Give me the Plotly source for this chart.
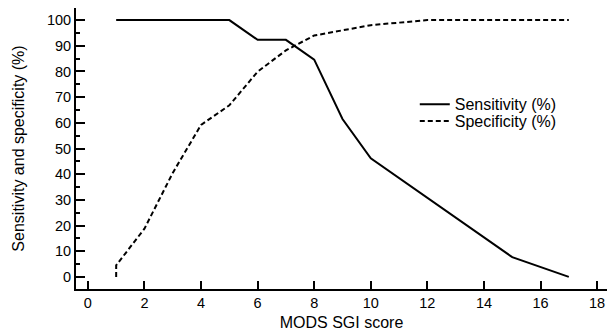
import plotly.graph_objects as go

# Data
sens_x = [1, 5, 6, 7, 8, 9, 10, 15, 17]
sens_y = [100, 100, 92.3, 92.3, 84.6, 61.5, 46.2, 7.7, 0]

spec_x = [1, 1, 2, 3, 4, 5, 6, 7, 8, 10, 12, 17]
spec_y = [0, 4.5, 18.8, 40.5, 59.2, 66.8, 79.9, 88.2, 94.0, 98.0, 100, 100]

x_ticks = [0, 2, 4, 6, 8, 10, 12, 14, 16, 18]
y_ticks = [0, 10, 20, 30, 40, 50, 60, 70, 80, 90, 100]

FONT = "Liberation Sans, Arial, sans-serif"

fig = go.Figure()
fig.add_trace(go.Scatter(x=sens_x, y=sens_y, mode="lines", name="Sensitivity (%)",
                         legend="legend", hoverinfo="skip",
                         line=dict(color="black", width=2)))
fig.add_trace(go.Scatter(x=spec_x, y=spec_y, mode="lines", name="Specificity (%)",
                         legend="legend2", hoverinfo="skip",
                         line=dict(color="black", width=2, dash="5px,3px")))

leg_common = dict(xanchor="left", yanchor="top", bgcolor="rgba(0,0,0,0)",
                  font=dict(size=16), itemwidth=30)

fig.update_layout(
    width=608, height=334,
    margin=dict(l=76, r=1, t=8, b=45, autoexpand=False),
    paper_bgcolor="white", plot_bgcolor="white",
    font=dict(family=FONT, size=16, color="black"),
    showlegend=True,
    hovermode=False,
    legend=dict(x=0.638, y=0.718, **leg_common),
    legend2=dict(x=0.638, y=0.658, **leg_common),
    xaxis=dict(range=[-0.42, 18.35], tickvals=x_ticks, ticks="inside", ticklen=8,
               tickwidth=2, tickcolor="black", showline=True, linecolor="black",
               linewidth=2, showgrid=False, zeroline=False, automargin=False,
               title=dict(text="MODS SGI score", standoff=6, font=dict(size=16)),
               tickfont=dict(size=14.5)),
    yaxis=dict(range=[-4.7, 104.7], tickvals=y_ticks, ticks="inside", ticklen=9,
               tickwidth=2, tickcolor="black", showline=True, linecolor="black",
               linewidth=2, showgrid=False, zeroline=False, automargin=False,
               minor=dict(dtick=5, tick0=0, ticks="inside", ticklen=4, tickwidth=1.5,
                          tickcolor="black", showgrid=False),
               title=dict(text="Sensitivity and specificity (%)", standoff=18,
                          font=dict(size=16)),
               tickfont=dict(size=14.5)),
)

fig.write_html(
    "out.html",
    config={"displayModeBar": False},
    post_script="document.body.style.margin='0';"
                "document.documentElement.style.overflow='hidden';",
)
